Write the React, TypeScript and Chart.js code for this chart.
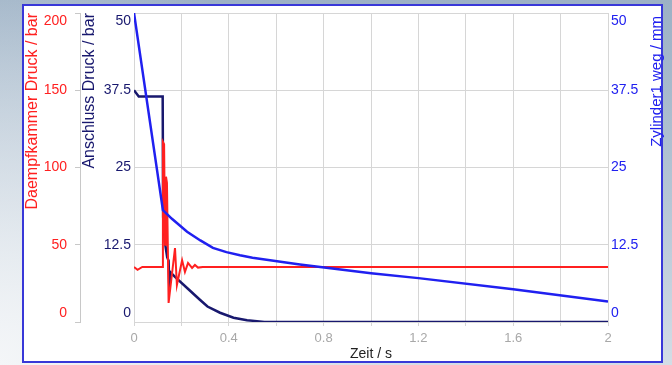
import React, { useEffect, useRef } from 'react';
import { Chart, registerables } from 'chart.js';

Chart.register(...registerables);

// ---- data ----
const redTime = [0, 0.015, 0.035, 0.12, 0.122, 0.127, 0.131, 0.135, 0.139, 0.146, 0.173, 0.181, 0.203, 0.215, 0.228, 0.245, 0.257, 0.27, 0.29, 2];
const redValues = [35.6, 33.8, 35.6, 35.6, 116.5, 115, 50, 94, 90, 12.3, 47.9, 24, 40, 32.4, 38.2, 35, 36.9, 35.2, 35.6, 35.6];

const navyTime = [0, 0.02, 0.121, 0.123, 0.13, 0.14, 0.146, 0.149, 0.155, 0.173, 0.224, 0.278, 0.31, 0.363, 0.42, 0.477, 0.55, 2];
const navyValues = [37.5, 36.5, 36.5, 17, 13, 10.5, 9.9, 5.5, 8, 7.3, 5.5, 3.6, 2.5, 1.5, 0.7, 0.3, 0, 0];

const blueTime = [0, 0.122, 0.16, 0.224, 0.28, 0.333, 0.39, 0.447, 0.5, 0.7, 1.0, 1.2, 1.6, 2.0];
const blueValues = [50, 18.1, 16.7, 14.6, 13.2, 12.0, 11.3, 10.8, 10.4, 9.3, 7.9, 7.1, 5.3, 3.3];

const redAxisLabels = ['0', '50', '100', '150', '200'];
const navyAxisLabels = ['0', '12.5', '25', '37.5', '50'];
const blueAxisLabels = ['0', '12.5', '25', '37.5', '50'];
const timeLabels = ['0', '0.4', '0.8', '1.2', '1.6', '2'];

const redTitle = 'Daempfkammer Druck / bar';
const navyTitle = 'Anschluss Druck / bar';
const blueTitle = 'Zylinder1 weg / mm';
const timeTitle = 'Zeit / s';

// ---- styles ----
const RED = '#ff2020';
const NAVY = '#18186e';
const BLUE = '#2020f0';
const GRID = '#d6d6d6';
const FONT = "'Liberation Sans', Arial, sans-serif";

const toPoints = (xs: number[], ys: number[]) => xs.map((x, i) => ({ x, y: ys[i] }));

const yLabel = (labels: string[]) => (value: any, index: number, ticks: any[]) => {
  const s = labels[index] ?? String(value);
  if (index === ticks.length - 1) return ['', s];
  if (index === 0) return [s, ''];
  return s;
};

const fixWidth = (w: number) => (scale: any) => {
  scale.width = w;
  scale.paddingTop = 0;
  scale.paddingBottom = 0;
};

const rightTitlePlugin = {
  id: 'rightTitle',
  afterDraw(chart: any) {
    const s = chart.scales.yBlue;
    const ctx = chart.ctx;
    ctx.save();
    ctx.font = `15px ${FONT}`;
    ctx.fillStyle = BLUE;
    ctx.translate(s.right - 9, s.top + 3);
    ctx.rotate(-Math.PI / 2);
    ctx.textAlign = 'right';
    ctx.textBaseline = 'middle';
    ctx.fillText(blueTitle, 0, 0);
    ctx.restore();
  },
};

export default function App() {
  const ref = useRef<HTMLCanvasElement>(null);

  useEffect(() => {
    if (!ref.current) return;
    Chart.defaults.font.family = FONT;
    const chart = new Chart(ref.current, {
      type: 'line',
      data: {
        datasets: [
          {
            label: blueTitle,
            data: toPoints(blueTime, blueValues),
            yAxisID: 'yBlue',
            borderColor: BLUE,
            borderWidth: 2.5,
            pointRadius: 0,
            tension: 0,
          },
          {
            label: redTitle,
            data: toPoints(redTime, redValues),
            yAxisID: 'yRed',
            borderColor: RED,
            borderWidth: 2,
            pointRadius: 0,
            tension: 0,
          },
          {
            label: navyTitle,
            data: toPoints(navyTime, navyValues),
            yAxisID: 'yNavy',
            borderColor: NAVY,
            borderWidth: 2.5,
            pointRadius: 0,
            tension: 0,
          },
        ],
      },
      options: {
        animation: false,
        responsive: false,
        events: [],
        layout: { padding: { left: 22, right: 6, top: 13, bottom: 0 } },
        plugins: { legend: { display: false }, tooltip: { enabled: false } },
        scales: {
          x: {
            type: 'linear',
            min: 0,
            max: 2,
            afterFit: (scale: any) => {
              scale.height = 43;
            },
            ticks: {
              stepSize: 0.2,
              autoSkip: false,
              maxRotation: 0,
              color: '#a8a8a8',
              font: { size: 13 },
              padding: 5,
              callback: (v: any) => {
                const s = String(Math.round(Number(v) * 10) / 10);
                return timeLabels.includes(s) ? s : '';
              },
            },
            grid: { color: GRID, tickLength: 4, drawOnChartArea: true },
            border: { display: true, color: GRID },
            title: { display: true, text: timeTitle, color: '#222', font: { size: 14 }, padding: { top: 0, bottom: 2 } },
          },
          yNavy: {
            type: 'linear',
            position: 'left',
            min: 0,
            max: 50,
            afterFit: fixWidth(54),
            ticks: { stepSize: 12.5, color: NAVY, font: { size: 14 }, padding: 3, callback: yLabel(navyAxisLabels) },
            grid: { drawOnChartArea: true, drawTicks: false, color: GRID },
            border: { display: true, color: GRID },
            title: { display: true, text: navyTitle, color: NAVY, align: 'end', font: { size: 16 }, padding: { top: 0, bottom: 0 } },
          },
          yRed: {
            type: 'linear',
            position: 'left',
            min: 0,
            max: 200,
            afterFit: fixWidth(58),
            ticks: { stepSize: 50, color: RED, font: { size: 14 }, padding: 8, callback: yLabel(redAxisLabels) },
            grid: { drawOnChartArea: false, color: '#c8c8c8', tickLength: 5 },
            border: { display: true, color: '#c8c8c8' },
            title: { display: true, text: redTitle, color: RED, align: 'end', font: { size: 16 }, padding: { top: 1, bottom: 0 } },
          },
          yBlue: {
            type: 'linear',
            position: 'right',
            min: 0,
            max: 50,
            afterFit: fixWidth(58),
            ticks: { stepSize: 12.5, color: BLUE, font: { size: 14 }, padding: 3, callback: yLabel(blueAxisLabels) },
            grid: { drawOnChartArea: false, drawTicks: false, color: GRID },
            border: { display: true, color: GRID },
            title: { display: false },
          },
        },
      } as any,
      plugins: [rightTitlePlugin],
    });
    return () => chart.destroy();
  }, []);

  return (
    <div
      style={{
        position: 'fixed',
        left: 0,
        top: 0,
        width: 672,
        height: 365,
        overflow: 'hidden',
        background:
          'radial-gradient(circle at 0% 100%, #f4f6f8 0%, rgba(244,246,248,0) 55%), linear-gradient(to bottom, #9cb1c5 0%, #b6c6d5 55%, #d3dde6 100%)',
      }}
    >
      <div
        style={{
          position: 'absolute',
          left: 22,
          top: 4,
          width: 641,
          height: 359,
          border: '2px solid #3838d8',
          boxSizing: 'border-box',
          background: '#ffffff',
        }}
      />
      <canvas
        ref={ref}
        width={672}
        height={365}
        style={{ position: 'absolute', left: 0, top: 0, width: 672, height: 365 }}
      />
    </div>
  );
}
